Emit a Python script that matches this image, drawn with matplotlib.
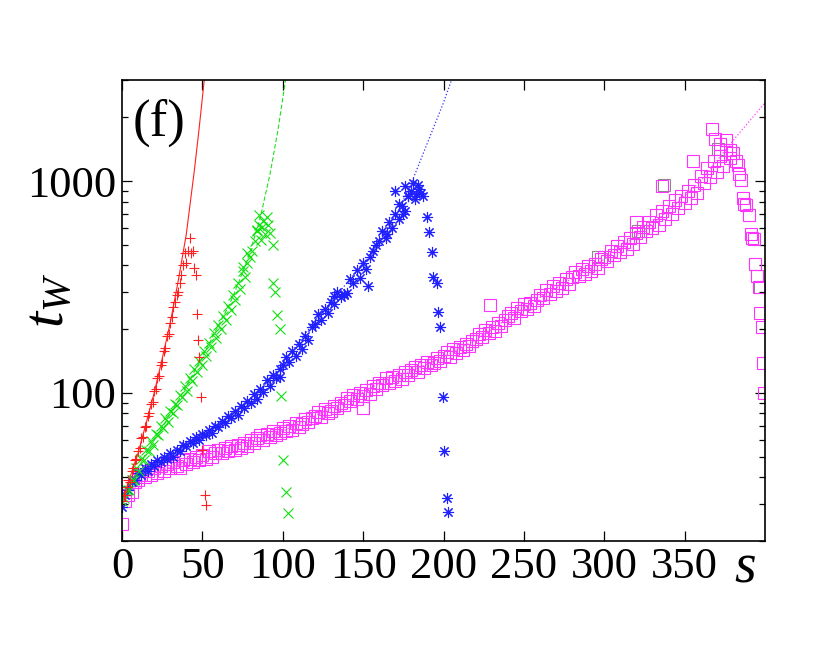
import numpy as np
import matplotlib
matplotlib.use("Agg")
import matplotlib.pyplot as plt
from matplotlib.ticker import LogLocator, FixedLocator, NullFormatter, FixedFormatter

plt.rcParams['font.family'] = ['Liberation Serif', 'DejaVu Serif']
plt.rcParams['mathtext.fontset'] = 'custom'
plt.rcParams['mathtext.rm'] = 'Liberation Serif'
plt.rcParams['mathtext.it'] = 'Liberation Serif:italic'

# ---- red (+) ----
red_s = np.arange(0, 44, 1.0)
red_t = [31, 33, 33, 36, 39, 38, 43, 44, 48, 49,
         53, 55, 61, 62, 69, 70, 78, 80, 89, 91,
         102, 104, 117, 120, 136, 140, 158, 163, 185, 190,
         215, 228, 255, 270, 290, 300, 330, 360, 400, 460,
         410, 470, 540, 460]
red_drop_s = [44, 45, 46, 46.5, 47.5, 48, 49, 50, 51.5, 52.5]
red_drop_t = [470, 390, 360, 237, 177, 148, 96, 54, 33, 29.5]
red_fit_s = [0, 5, 10, 15, 20, 25, 30, 35, 40, 45, 48, 51.2]
red_fit_t = [31, 40, 52, 72, 100, 145, 214, 339, 562, 1122, 1778, 3020]

# ---- green (x) ----
green_s = np.arange(0, 86, 1.5)
green_t = [31, 32, 35, 35, 39, 39, 44, 43, 49, 48,
           54, 53, 59, 57, 64, 63, 70, 68, 76, 73,
           82, 80, 89, 88, 98, 96, 108, 102, 118, 114,
           130, 126, 142, 136, 157, 150, 172, 165, 192, 181,
           210, 200, 232, 222, 258, 245, 290, 275, 330, 310,
           375, 352, 410, 440, 470, 520, 580, 620]
green_top_s = [85.4, 90, 87.3, 92, 86.5, 94, 88, 89, 91, 84, 77.6, 75.5]
green_top_t = [690, 680, 610, 568, 525, 500, 650, 560, 620, 590, 460, 394]
green_drop_s = [94.1, 95.1, 96.2, 98.2, 99.2, 100.2, 101.8, 103]
green_drop_t = [329, 300, 233, 200, 97, 48, 34, 27]
green_fit_s = [0, 15, 34, 48.5, 60, 67, 73, 78.6, 85.8, 92, 97, 101.8]
green_fit_t = [31, 52, 89, 141, 208, 263, 339, 437, 661, 1072, 1738, 3020]

# ---- blue (*) ----
blue_s = np.arange(0, 188, 2.0)
blue_t = [29, 33, 35, 38, 39, 42, 41, 44, 43, 46,
          45, 48, 47, 50, 49, 52, 50, 54, 53, 57,
          56, 59, 58, 62, 60, 64, 63, 67, 65, 70,
          69, 74, 72, 78, 76, 82, 79, 87, 85, 92,
          90, 99, 94, 104, 101, 115, 108, 121, 118, 130,
          136, 148, 140, 158, 150, 170, 162, 186, 178, 205,
          212, 235, 220, 250, 238, 270, 262, 300, 285, 290,
          295, 345, 330, 380, 350, 410, 385, 440, 470, 500,
          520, 580, 540, 640, 600, 700, 660, 760, 720, 850,
          900, 820, 960, 880]
blue_top_s = [170, 172, 176, 178, 181, 183, 185, 187, 175, 165, 153, 98, 132, 138]
blue_top_t = [900, 780, 950, 850, 980, 870, 920, 850, 700, 560, 318, 119, 288, 292]
blue_drop_s = [189.5, 191, 192.6, 193.7, 195.7, 196.7, 197.6, 199.9, 200.5, 202, 203]
blue_drop_t = [680, 575, 465, 353, 330, 241, 205, 96, 53, 32, 27.5]
blue_fit_s = [0, 10, 20, 30, 40, 50, 60, 70, 80, 90, 100, 110, 120, 130, 140,
              150, 160, 170, 180, 190, 200, 205]
blue_fit_t = [30, 40, 46, 51, 57, 63, 71, 81, 93, 112, 138, 174, 219, 269, 331,
              407, 525, 676, 977, 1514, 2344, 3000]

# ---- magenta (squares) ----
mag_s = np.arange(0, 381, 2.0)
mag_t = [24, 31, 33, 34, 38, 39, 41, 40, 43, 41,
         44, 42, 45, 43, 46, 44, 47, 45, 44, 48,
         46, 49, 47, 50, 48, 51, 49, 53, 50, 52,
         54, 52, 55, 53, 56, 54, 57, 55, 58, 56,
         60, 58, 61, 63, 60, 64, 62, 66, 63, 65,
         68, 66, 70, 67, 72, 69, 71, 75, 73, 76,
         78, 81, 77, 84, 80, 82, 87, 85, 90, 88,
         95, 92, 98, 94, 100, 97, 103, 99, 108, 104,
         112, 109, 117, 111, 119, 114, 121, 116, 126, 122,
         128, 133, 126, 136, 131, 140, 135, 138, 146, 142,
         150, 156, 148, 162, 154, 165, 159, 170, 166, 175,
         180, 190, 184, 198, 192, 205, 196, 214, 208, 222,
         230, 238, 226, 252, 244, 262, 250, 266, 258, 276,
         290, 282, 305, 294, 318, 302, 330, 312, 346, 328,
         352, 372, 358, 385, 366, 398, 376, 408, 390, 430,
         438, 420, 470, 448, 492, 462, 515, 480, 540, 505,
         570, 545, 610, 580, 640, 600, 690, 618, 720, 660,
         760, 700, 810, 745, 850, 790, 900, 830, 960, 880,
         1060, 980, 1150, 1040, 1250, 1100, 1320, 1180, 1400, 1290,
         1350]
mag_top_s = [336, 355, 367, 369, 372, 376, 378, 320, 229, 150]
mag_top_t = [950, 1250, 1760, 1580, 1500, 1560, 1400, 640, 260, 85]
mag_drop_s = [382, 383, 384, 385, 386, 387, 388, 390, 391, 392, 393, 394, 395,
              396, 397, 398, 399, 399.5]
mag_drop_t = [1250, 1190, 1080, 1012, 830, 780, 769, 692, 560, 537, 530, 405,
              357, 315, 239, 205, 139, 100]
mag_fit_s = [0, 10, 20, 40, 60, 80, 100, 120, 140, 160, 180, 200, 220, 240, 260,
             280, 300, 320, 340, 360, 380, 400]
mag_fit_t = [30, 37, 42, 47, 52.5, 59, 66, 78, 92, 111, 127, 148, 178, 224, 282,
             347, 427, 550, 724, 1000, 1549, 2344]

grey_s = [296, 321, 337, 371, 397]
grey_t = [437, 580, 960, 1410, 315]

fig = plt.figure(figsize=(8.3, 6.61), dpi=100)
ax = fig.add_axes([0.147, 0.1815, 0.7747, 0.6975])

ms = 7
# fitted curves
ax.plot(red_fit_s, red_fit_t, '-', color='#ff2020', lw=0.8)
ax.plot(green_fit_s, green_fit_t, '--', color='#20e020', lw=0.8, dashes=(4, 2))
ax.plot(blue_fit_s, blue_fit_t, ':', color='#3030ff', lw=0.9)
ax.plot(mag_fit_s, mag_fit_t, ':', color='#ff40ff', lw=0.9)

sq = dict(marker='s', ls='none', ms=8, mfc='none', mew=0.8)
ax.plot(grey_s, grey_t, mec='#8a8a8a', **sq)
for s, t in [(mag_s, mag_t), (mag_top_s, mag_top_t), (mag_drop_s, mag_drop_t)]:
    ax.plot(s, t, mec='#ff33ff', **sq)

ast = dict(marker=(8, 2, 0), ls='none', ms=8, mew=0.8)
for s, t in [(blue_s, blue_t), (blue_top_s, blue_top_t), (blue_drop_s, blue_drop_t)]:
    ax.plot(s, t, color='#2020ff', mec='#2020ff', **ast)

cr = dict(marker='x', ls='none', ms=7, mew=0.8)
for s, t in [(green_s, green_t), (green_top_s, green_top_t), (green_drop_s, green_drop_t)]:
    ax.plot(s, t, color='#10e010', **cr)

pl = dict(marker='+', ls='none', ms=ms, mew=0.8)
for s, t in [(red_s, red_t), (red_drop_s, red_drop_t)]:
    ax.plot(s, t, color='#ff2020', **pl)

ax.set_yscale('log')
ax.set_xlim(0, 400)
ax.set_ylim(20, 3000)

x_ticks = [0, 50, 100, 150, 200, 250, 300, 350]
ax.xaxis.set_major_locator(FixedLocator(x_ticks))
ax.xaxis.set_major_formatter(FixedFormatter([str(v) for v in x_ticks]))
ax.yaxis.set_major_locator(FixedLocator([100, 1000]))
ax.yaxis.set_major_formatter(FixedFormatter(['100', '1000']))
ax.yaxis.set_minor_locator(LogLocator(base=10, subs=np.arange(2, 10)))
ax.yaxis.set_minor_formatter(NullFormatter())

ax.tick_params(which='both', direction='in', top=True, right=True, width=0.9)
ax.tick_params(which='major', length=7, labelsize=32, pad=4)
ax.tick_params(which='minor', length=4)
for sp in ax.spines.values():
    sp.set_linewidth(1.2)

ax.text(0.017, 0.96, '(f)', transform=ax.transAxes, fontsize=38, va='top', ha='left')
fig.text(745 / 830, 1 - 567 / 661, r'$s$', fontsize=40, ha='center', va='center')
fig.text(50 / 830, 1 - 300 / 661, r'$t_W$', fontsize=42, ha='center', va='center',
         rotation=90)

fig.savefig('out.png', dpi=100)
